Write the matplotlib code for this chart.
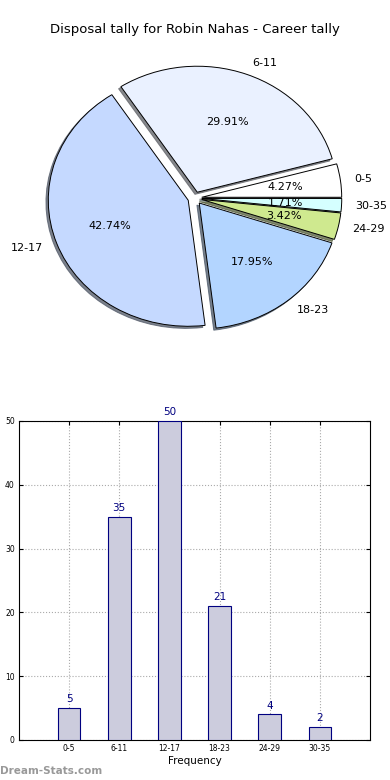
import matplotlib
matplotlib.use("Agg")
import matplotlib.pyplot as plt

categories = ["0-5", "6-11", "12-17", "18-23", "24-29", "30-35"]
counts = [5, 35, 50, 21, 4, 2]
pie_colors = ["#ffffff", "#eaf1ff", "#c5d9ff", "#b3d5ff", "#cfe98f", "#d5ffff"]
title = "Disposal tally for Robin Nahas - Career tally"

plt.rcParams['font.family'] = ['DejaVu Sans']

fig = plt.figure(figsize=(3.9, 7.8), dpi=100)

# Pie
axp = fig.add_axes([0.033, 0.536, 0.933, 0.42])
wedges, texts, autotexts = axp.pie(
    counts, labels=categories, colors=pie_colors, autopct='%1.2f%%',
    explode=[0.05] * len(counts),
    shadow={'ox': -0.012, 'oy': -0.012, 'shade': 0.6, 'alpha': 0.75},
    startangle=0,
    wedgeprops=dict(edgecolor='black', linewidth=0.7),
    textprops=dict(fontsize=8))
axp.set_aspect('auto')
axp.set_xlim(-1.3, 1.3)
axp.set_ylim(-1.3, 1.3)
fig.text(0.5, 0.962, title, ha='center', va='center', fontsize=9.5)

# Bars
axb = fig.add_axes([0.0487, 0.0513, 0.9, 0.409])
x = list(range(1, len(categories) + 1))
axb.bar(x, counts, width=0.45, color='#ccccdd', edgecolor='#000080', linewidth=0.8, zorder=3)
for xi, c in zip(x, counts):
    axb.text(xi, c + 0.6, str(c), ha='center', va='bottom', color='#000080', fontsize=7.5)
axb.set_xlim(0, 7)
axb.set_ylim(0, 50)
axb.set_xticks(x)
axb.set_xticklabels(categories, fontsize=5.5)
axb.set_yticks([0, 10, 20, 30, 40, 50])
axb.tick_params(axis='y', labelsize=5.5)
axb.tick_params(direction='in', top=True, right=True, length=3, pad=3)
axb.grid(True, linestyle=':', color='#aaaaaa', linewidth=0.8, zorder=0)
axb.set_axisbelow(True)
axb.set_xlabel("Frequency", fontsize=7.5, labelpad=2)

fig.text(0.0, 0.012, "Dream-Stats.com", color='#999999', fontsize=7.5, fontweight='bold', ha='left', va='center')

fig.savefig("out.png", dpi=100)
